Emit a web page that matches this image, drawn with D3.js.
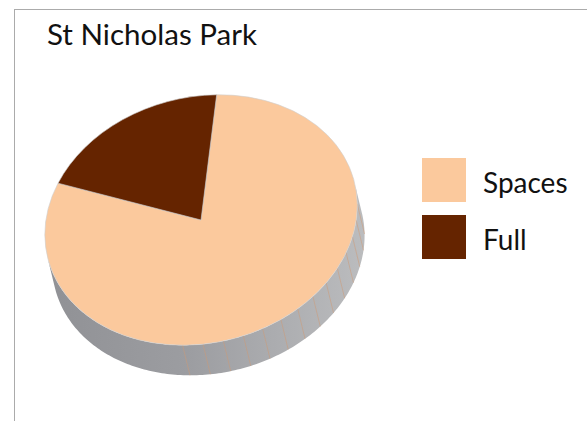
<!DOCTYPE html>
<html>
<head>
<meta charset="utf-8">
<script src="https://cdn.jsdelivr.net/npm/d3@7/dist/d3.min.js"></script>
<style>
  html, body { margin: 0; padding: 0; background: #fff; }
  svg { display: block; }
  text { font-family: Lato, "Open Sans", sans-serif; fill: #111; }
</style>
</head>
<body>
<svg id="chart" width="587" height="421"></svg>
<script>
// Car park occupancy
const title = "St Nicholas Park";
const categories = ["Spaces", "Full"];
const values = [80, 20];
const sliceColors = ["#fbc99d", "#652400"];

const W = 587, H = 421;
const svg = d3.select("#chart");

// frame
svg.append("rect")
  .attr("x", 14.5).attr("y", 9.5)
  .attr("width", W).attr("height", H)
  .attr("fill", "none").attr("stroke", "#ababab").attr("stroke-width", 1);

// title
svg.append("text")
  .attr("x", 47).attr("y", 45)
  .attr("font-size", 28)
  .attr("textLength", 210).attr("lengthAdjust", "spacingAndGlyphs")
  .text(title);

// 3D disc geometry: a tilted circle seen as a rotated ellipse
const cx = 201, cy = 220;
const rx = 158, ry = 123;
const tiltDeg = -13.7;
const depth = 31;
const th = tiltDeg * Math.PI / 180;
const e1 = [Math.cos(th), Math.sin(th)];
const e2 = [-Math.sin(th), Math.cos(th)];
const rad = d => d * Math.PI / 180;

// point on the rim at parametric angle tDeg, dropped by `drop` along the disc normal
function rimPoint(tDeg, drop) {
  const t = rad(tDeg);
  const u = rx * Math.cos(t), v = ry * Math.sin(t) + (drop || 0);
  return [cx + u * e1[0] + v * e2[0], cy + u * e1[1] + v * e2[1]];
}

// side wall: visible front half of the cylinder
const defs = svg.append("defs");
const grad = defs.append("linearGradient")
  .attr("id", "wall").attr("gradientUnits", "userSpaceOnUse")
  .attr("x1", 45).attr("y1", 0).attr("x2", 363).attr("y2", 0);
grad.append("stop").attr("offset", "0%").attr("stop-color", "#909195");
grad.append("stop").attr("offset", "45%").attr("stop-color", "#9c9da1");
grad.append("stop").attr("offset", "100%").attr("stop-color", "#bbbcbe");

const topEdge = d3.range(0, 181, 1).map(t => rimPoint(t, 0));
const bottomEdge = d3.range(180, -1, -1).map(t => rimPoint(t, depth));
svg.append("path")
  .attr("d", d3.line()(topEdge.concat(bottomEdge)) + "Z")
  .attr("fill", "url(#wall)");

// facet seams on the wall
const seams = d3.range(10, 110, 7.5);
svg.append("g").selectAll("line").data(seams).join("line")
  .attr("x1", t => rimPoint(t, 0)[0])
  .attr("y1", t => rimPoint(t, 0)[1])
  .attr("x2", t => rimPoint(t, depth)[0])
  .attr("y2", t => rimPoint(t, depth)[1])
  .attr("stroke", "#d09a72").attr("stroke-opacity", 0.7).attr("stroke-width", 0.7);

// top face slices
const pie = d3.pie().sort(null).value(d => d)
  .startAngle(rad(16.5)).endAngle(rad(16.5) + 2 * Math.PI);
const arcs = pie(values);
const arc = d3.arc().innerRadius(0).outerRadius(1);

const face = svg.append("g")
  .attr("transform", `translate(${cx},${cy}) rotate(${tiltDeg}) scale(${rx},${ry})`);
face.selectAll("path").data(arcs).join("path")
  .attr("d", arc)
  .attr("fill", (d, i) => sliceColors[i])
  .attr("stroke", "#cfcfcf")
  .attr("stroke-width", 0.6)
  .attr("vector-effect", "non-scaling-stroke");

// legend
const legend = svg.append("g").attr("transform", "translate(422,158)");
const item = legend.selectAll("g").data(categories).join("g")
  .attr("transform", (d, i) => `translate(0,${i * 57})`);
item.append("rect")
  .attr("width", 44).attr("height", 44)
  .attr("fill", (d, i) => sliceColors[i]);
item.append("text")
  .attr("x", 61).attr("y", 35)
  .attr("font-size", 28)
  .text(d => d);
</script>
</body>
</html>
